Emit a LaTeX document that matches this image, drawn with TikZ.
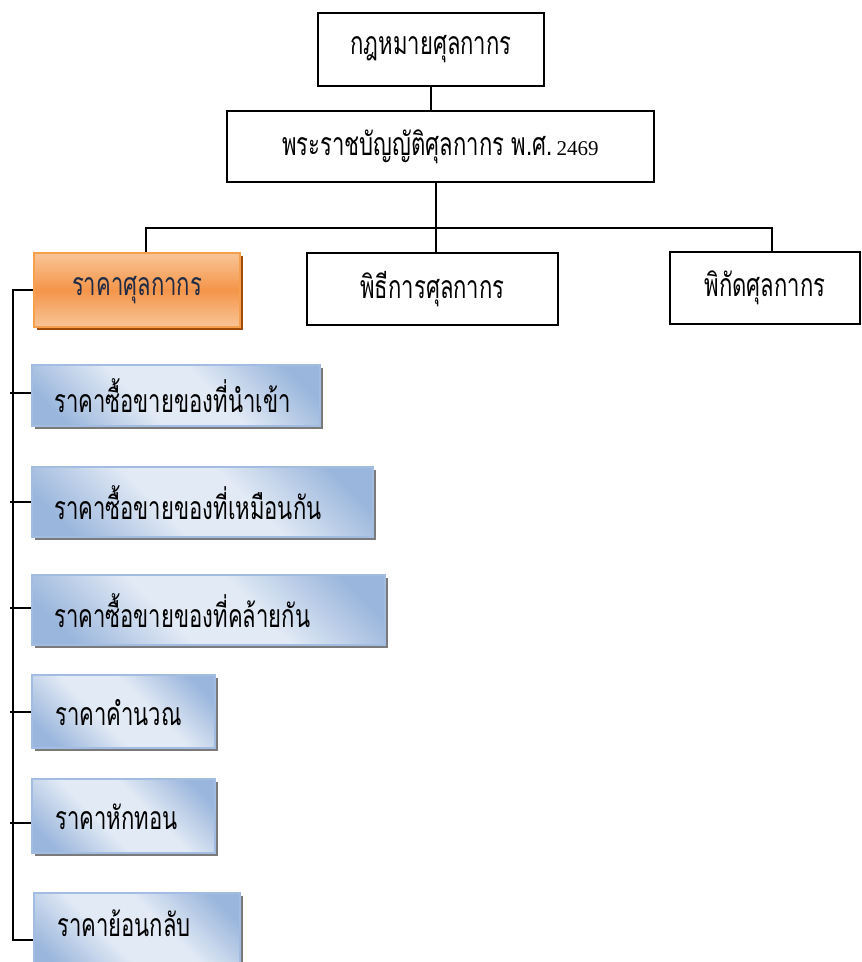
\documentclass[tikz,border=0pt]{standalone}
\usepackage{fontspec}
\setmainfont{Liberation Serif}
\newfontfamily\thai[Script=Thai,FakeStretch=0.69]{Loma}
\usetikzlibrary{shadows}

\definecolor{orgEdge}{HTML}{F6A04E}
\definecolor{orgLight}{HTML}{F9C597}
\definecolor{orgMid}{HTML}{F4954A}
\definecolor{orgShadow}{HTML}{9E4B0C}
\definecolor{orgText}{HTML}{1F2A44}
\definecolor{bluEdge}{HTML}{A3BDE2}
\definecolor{bluDark}{HTML}{9AB6DC}
\definecolor{bluLight}{HTML}{E2EAF5}
\definecolor{bluShadow}{HTML}{7A7A7A}

% light diagonal sheen across the blue boxes
\pgfdeclarehorizontalshading{bluesheen}{100bp}{%
  color(0bp)=(bluDark); color(22bp)=(bluDark); color(42bp)=(bluLight);
  color(58bp)=(bluLight); color(78bp)=(bluDark); color(100bp)=(bluDark)}

\tikzset{
  x=1pt, y=-1pt,
  thaitext/.style={font=\thai\fontsize{32}{36}\selectfont},
  plainbox/.style={draw=black, line width=1.8pt, fill=white, inner sep=0pt, thaitext},
  orangebox/.style={draw=orgEdge, line width=1.5pt, inner sep=0pt, thaitext,
    text=orgText, top color=orgLight, bottom color=orgLight, middle color=orgMid,
    drop shadow={shadow xshift=3pt, shadow yshift=-3pt, fill=orgShadow, opacity=1}},
  bluebox/.style={draw=bluEdge, line width=1.5pt, inner sep=0pt,
    shading=bluesheen, shading angle=45,
    drop shadow={shadow xshift=3pt, shadow yshift=-3pt, fill=bluShadow, opacity=1}},
  bluetext/.style={anchor=west, inner sep=0pt, thaitext, text=black},
  conn/.style={draw=black, line width=1.8pt},
}

\begin{document}
\begin{tikzpicture}
\useasboundingbox (0,0) rectangle (862,962);

% upper levels
\node[plainbox, minimum width=226pt, minimum height=73pt] (law) at (431,49.5) {กฎหมายศุลกากร};
\node[plainbox, minimum width=427pt, minimum height=71pt] (act) at (440.5,146.5)
  {พระราชบัญญัติศุลกากร พ.ศ.\hspace{4pt}{\rmfamily\fontsize{21}{24}\selectfont 2469}};

% third level
\node[orangebox, minimum width=206pt, minimum height=74pt] (price) at (137,290) {ราคาศุลกากร};
\node[plainbox, minimum width=251pt, minimum height=72pt] (proc) at (432.5,289) {พิธีการศุลกากร};
\node[plainbox, minimum width=190pt, minimum height=72pt] (tariff) at (765,288) {พิกัดศุลกากร};

% valuation methods
\node[bluebox, minimum width=288pt, minimum height=61pt] (b1) at (176,395.5) {};
\node[bluebox, minimum width=341pt, minimum height=70pt] (b2) at (202.5,502) {};
\node[bluebox, minimum width=353pt, minimum height=70pt] (b3) at (208.5,610) {};
\node[bluebox, minimum width=183pt, minimum height=73pt] (b4) at (123.5,711.5) {};
\node[bluebox, minimum width=183pt, minimum height=74pt] (b5) at (123.5,816) {};
\node[bluebox, minimum width=206pt, minimum height=80pt] (b6) at (137,933) {};

\node[bluetext] (t1) at (54,396) {ราคาซื้อขายของที่นำเข้า};
\node[bluetext] (t2) at (54,503) {ราคาซื้อขายของที่เหมือนกัน};
\node[bluetext] (t3) at (54,611) {ราคาซื้อขายของที่คล้ายกัน};
\node[bluetext] (t4) at (55,713) {ราคาคำนวณ};
\node[bluetext] (t5) at (55,817) {ราคาหักทอน};
\node[bluetext] (t6) at (57,923) {ราคาย้อนกลับ};

% tree connectors
\coordinate (busL) at (146,228);
\coordinate (busM) at (436,228);
\coordinate (busR) at (772,228);
\coordinate (spine) at (13,940);

\draw[conn] (law.south) -- (law.south |- act.north);
\draw[conn] (act.south -| busM) -- (busM);
\draw[conn] (busL |- price.north) -- (busL) -- (busR) -- (busR |- tariff.north);
\draw[conn] (busM) -- (busM |- proc.north);

\draw[conn] (price.west) -| (spine) -- (spine -| b6.west);
\foreach \b/\y in {b1/393, b2/502, b3/608, b4/712, b5/823}
  \draw[conn] (10,\y) -- (\b.west |- 0,\y);
\end{tikzpicture}
\end{document}
